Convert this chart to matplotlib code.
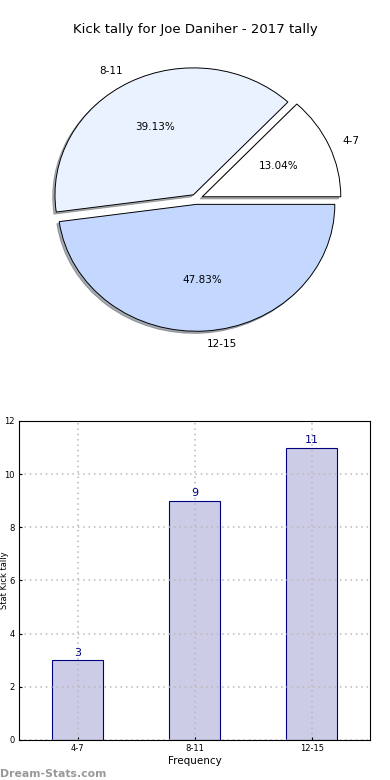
import matplotlib
matplotlib.use('Agg')
import matplotlib.pyplot as plt
import numpy as np

# Kick tally data
categories = ['4-7', '8-11', '12-15']
kicks = [3, 9, 11]
pie_colors = ['#ffffff', '#eaf1ff', '#c4d8ff']
explode = [0.05, 0.04, 0.04]

fig = plt.figure(figsize=(3.9, 7.8), dpi=100)

# Pie chart
ax1 = fig.add_axes([0.041, 0.533, 0.923, 0.423])
wedges, texts, autotexts = ax1.pie(kicks, labels=categories, colors=pie_colors,
                                   explode=explode,
                                   shadow={'ox': -0.012, 'oy': -0.012, 'shade': 0.6},
                                   startangle=0,
                                   autopct='%.2f%%', pctdistance=0.6,
                                   labeldistance=1.1,
                                   wedgeprops={'edgecolor': 'black', 'linewidth': 0.7},
                                   textprops={'fontsize': 7.5})
ax1.set_aspect('auto')
ax1.set_xlim(-1.30, 1.30)
ax1.set_ylim(-1.30, 1.30)
fig.text(0.5, 1 - 30 / 780, 'Kick tally for Joe Daniher - 2017 tally',
         fontsize=9.5, ha='center', va='center')

# Bar chart
ax2 = fig.add_axes([0.049, 0.0513, 0.9, 0.409])
x = np.arange(len(categories))
bars = ax2.bar(x, kicks, width=0.44, color='#ccccE6', edgecolor='navy', linewidth=0.8)
for xi, v in zip(x, kicks):
    ax2.text(xi, v + 0.1, str(v), ha='center', va='bottom', color='navy', fontsize=8)
ax2.set_xlim(-0.5, 2.5)
ax2.set_ylim(0, 12)
ax2.set_xticks(x)
ax2.set_xticklabels(categories)
ax2.set_yticks(range(0, 13, 2))
ax2.tick_params(labelsize=6, length=2, direction='in', pad=3)
ax2.grid(True, linestyle=(0, (1, 2.5)), color='#b8b8b8', linewidth=1.1)
ax2.set_axisbelow(False)
for sp in ax2.spines.values():
    sp.set_zorder(5)
ax2.set_xlabel('Frequency', fontsize=7.5, labelpad=2)
ax2.set_ylabel('Stat Kick tally', fontsize=6)
ax2.yaxis.set_label_coords(-0.028, 0.5)

fig.text(0.0, 0.004, 'Dream-Stats.com', fontsize=7.8, color='#999999', fontweight='bold')

fig.savefig('out.png', dpi=100)
